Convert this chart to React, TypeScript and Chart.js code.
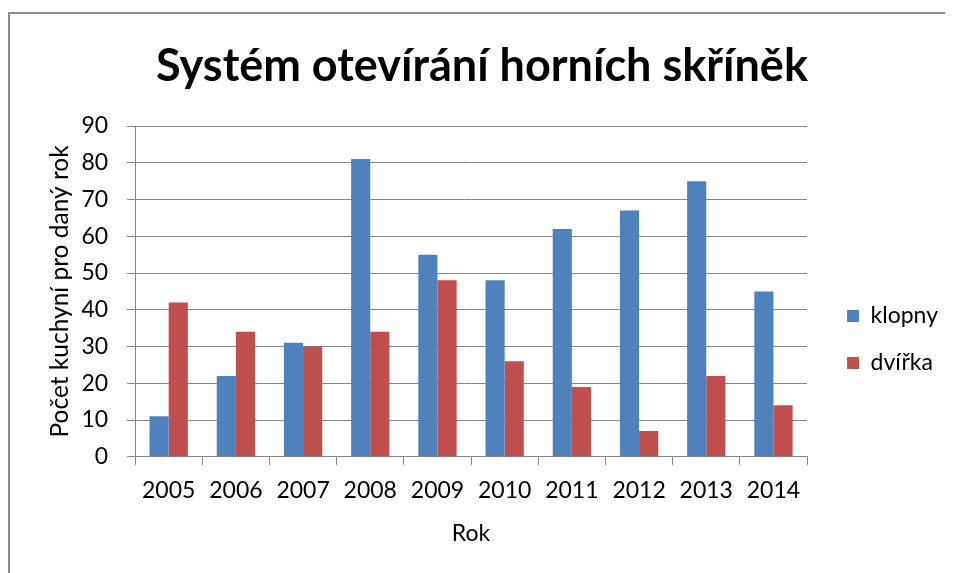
import React, { useEffect, useRef } from "react";
import { Chart, registerables } from "chart.js";

Chart.register(...registerables);

const categories = ["2005", "2006", "2007", "2008", "2009", "2010", "2011", "2012", "2013", "2014"];
const klopny = [11, 22, 31, 81, 55, 48, 62, 67, 75, 45];
const dvirka = [42, 34, 30, 34, 48, 26, 19, 7, 22, 14];
const seriesNames = ["klopny", "dvířka"];
const titleText = "Systém otevírání horních skříněk";
const xTitle = "Rok";
const yTitle = "Počet kuchyní pro daný rok";

const FONT = "Lato, 'Open Sans', sans-serif";
const GRID = "#868686";

const legendShift = {
  id: "legendShift",
  afterLayout(chart: any) {
    const lg = chart.legend;
    if (!lg) return;
    const dx = 16;
    const dy = 59;
    lg.left += dx;
    lg.right += dx;
    lg.top += dy;
    lg.bottom += dy;
  },
};

export default function App() {
  const ref = useRef<HTMLCanvasElement | null>(null);
  useEffect(() => {
    if (!ref.current) return;
    const chart = new Chart(ref.current, {
      type: "bar",
      data: {
        labels: categories,
        datasets: [
          { label: seriesNames[0], data: klopny, backgroundColor: "#4F81BD", categoryPercentage: 0.57, barPercentage: 1 },
          { label: seriesNames[1], data: dvirka, backgroundColor: "#C0504D", categoryPercentage: 0.57, barPercentage: 1 },
        ],
      },
      plugins: [legendShift],
      options: {
        animation: false,
        responsive: false,
        maintainAspectRatio: false,
        layout: { padding: { left: 22, right: 20, top: 0, bottom: 25 } },
        plugins: {
          title: {
            display: true,
            text: titleText,
            color: "#000",
            font: { family: FONT, size: 45, weight: "bold" },
            padding: { top: 25, bottom: 33 },
          },
          legend: {
            position: "right",
            labels: {
              boxWidth: 12,
              boxHeight: 12,
              padding: 24,
              color: "#000",
              font: { family: FONT, size: 23 },
            },
          },
          tooltip: { enabled: false },
        },
        scales: {
          x: {
            grid: { display: true, offset: true, drawOnChartArea: false, drawTicks: true, tickLength: 8, color: GRID },
            border: { display: true, color: GRID },
            ticks: { color: "#000", font: { family: FONT, size: 23 }, padding: 12 },
            title: { display: true, text: xTitle, color: "#000", font: { family: FONT, size: 23 }, padding: { top: 3, bottom: 0 } },
          },
          y: {
            min: 0,
            max: 90,
            ticks: { stepSize: 10, color: "#000", font: { family: FONT, size: 23 }, padding: 19 },
            grid: { color: GRID, tickLength: 8 },
            border: { display: true, color: GRID },
            title: { display: true, text: yTitle, color: "#000", font: { family: FONT, size: 24.5 }, padding: { top: 13, bottom: -12 } },
          },
        },
      },
    });
    return () => chart.destroy();
  }, []);
  return (
    <div style={{ width: 945, height: 565, overflow: "hidden", position: "relative" }}>
      <div
        style={{
          position: "absolute",
          left: 0,
          top: 4,
          width: 960,
          height: 600,
          border: "2px solid #8a8a8a",
          background: "#fff",
        }}
      >
        <canvas ref={ref} width={942} height={558} style={{ display: "block" }} />
      </div>
    </div>
  );
}
